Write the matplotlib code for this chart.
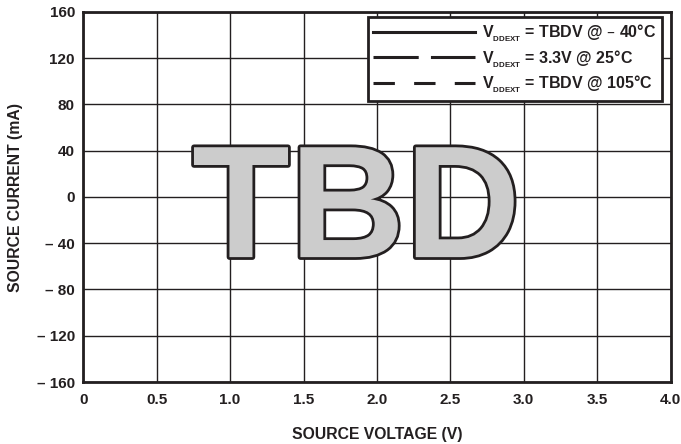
import matplotlib
matplotlib.use("Agg")
import matplotlib.pyplot as plt
import matplotlib.patheffects as pe

# source current vs source voltage -- curves still TBD, so no data points yet
voltage = []
current = []

series_labels = [
    r"V$_{{}_\mathregular{DDEXT}}$ = TBDV @ – 40°C",
    r"V$_{{}_\mathregular{DDEXT}}$ = 3.3V @ 25°C",
    r"V$_{{}_\mathregular{DDEXT}}$ = TBDV @ 105°C",
]
x_ticks = [0, 0.5, 1.0, 1.5, 2.0, 2.5, 3.0, 3.5, 4.0]
x_tick_labels = ["0", "0.5", "1.0", "1.5", "2.0", "2.5", "3.0", "3.5", "4.0"]
y_ticks = [160, 120, 80, 40, 0, -40, -80, -120, -160]
y_tick_labels = ["160", "120", "80", "40", "0", "– 40", "– 80", "– 120", "– 160"]

ink = "#231f20"
plt.rcParams["font.family"] = ["Liberation Sans", "DejaVu Sans"]
plt.rcParams["font.weight"] = "bold"

fig = plt.figure(figsize=(6.81, 4.44), dpi=100)
ax = fig.add_axes([83.3 / 681, 1 - 382 / 444, 587.2 / 681, 370 / 444])

styles = ["-", (0, (14.8, 4)), (0, (7, 6.3))]
for lab, ls in zip(series_labels, styles):
    ax.plot(voltage, current, color=ink, lw=2.2, linestyle=ls, label=lab)

ax.set_xlim(0, 4.0)
ax.set_ylim(-160, 160)
ax.set_xticks(x_ticks, x_tick_labels)
ax.set_yticks(y_ticks, y_tick_labels)
ax.tick_params(length=0, labelsize=11, colors=ink)
ax.tick_params(axis="x", pad=8)
ax.tick_params(axis="y", pad=6)
ax.grid(True, color=ink, lw=1.0)
for s in ax.spines.values():
    s.set_linewidth(2.0)
    s.set_color(ink)

ax.set_xlabel("SOURCE VOLTAGE (V)", fontsize=11.3, fontweight="bold", color=ink, va="center")
ax.xaxis.set_label_coords(0.5, -0.143)
ax.set_ylabel("SOURCE CURRENT (mA)", fontsize=11.3, fontweight="bold", color=ink, va="center")
ax.yaxis.set_label_coords(-0.116, 0.5)

# big placeholder
ax.text(1.86, -52, "TBD", fontsize=115, fontweight="bold", color="#cccccc",
        ha="center", va="baseline", zorder=5,
        path_effects=[pe.Stroke(linewidth=4, foreground=ink), pe.Normal()])

leg = ax.legend(loc="upper right", bbox_to_anchor=(0.9855, 0.9865), borderaxespad=0,
                fontsize=11.5, handlelength=6.4, handletextpad=0.45, labelspacing=0.26,
                borderpad=0.33, fancybox=False, framealpha=1, edgecolor=ink)
leg.get_frame().set_linewidth(2.0)
leg.set_zorder(6)
for t in leg.get_texts():
    t.set_color(ink)

fig.savefig("out.png", dpi=100)
